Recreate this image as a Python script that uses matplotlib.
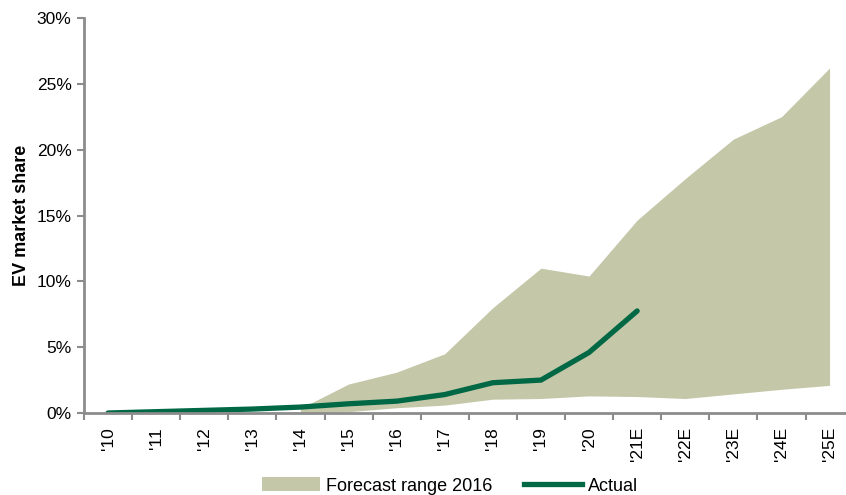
import numpy as np
import matplotlib
matplotlib.use("Agg")
import matplotlib.pyplot as plt
from matplotlib.patches import Patch
from matplotlib.lines import Line2D

plt.rcParams['font.family'] = ['Liberation Sans', 'DejaVu Sans']

years = ["'10", "'11", "'12", "'13", "'14", "'15", "'16", "'17", "'18", "'19",
         "'20", "'21E", "'22E", "'23E", "'24E", "'25E"]
# Forecast range made in 2016 (EV share, %)
forecast_low = [np.nan, np.nan, np.nan, np.nan, 0.0, 0.1, 0.4, 0.6, 1.05, 1.1,
                1.3, 1.25, 1.1, 1.45, 1.8, 2.1]
forecast_high = [np.nan, np.nan, np.nan, np.nan, 0.35, 2.2, 3.1, 4.5, 8.0, 11.0,
                 10.4, 14.65, 17.8, 20.8, 22.5, 26.2]
# Actual EV share (%)
actual = [0.0, 0.1, 0.2, 0.3, 0.45, 0.7, 0.9, 1.4, 2.3, 2.5, 4.6, 7.75]

fill_color = "#C4C7A8"
line_color = "#006845"
axis_gray = "#8C8C8C"

W, H = 846, 495
fig = plt.figure(figsize=(W / 100, H / 100), dpi=100)
ax = fig.add_axes([84 / W, (H - 413) / H, 16 * 48.1 / W, (413 - 18) / H])

x = np.arange(len(years))
ax.fill_between(x, forecast_low, forecast_high, color=fill_color, linewidth=0)
ax.plot(np.arange(len(actual)), actual, color=line_color, linewidth=3.8,
        solid_capstyle='round', solid_joinstyle='miter')

ax.set_xlim(-0.5, len(years) - 0.5)
ax.set_ylim(0, 30)
ax.set_yticks(np.arange(0, 31, 5))
ax.set_yticklabels([f"{v}%" for v in range(0, 31, 5)], fontsize=12.5)

ax.set_xticks(np.arange(-0.5, len(years), 1.0))
ax.set_xticklabels([])
ax.set_xticks(x, minor=True)
ax.set_xticklabels(years, minor=True, rotation=90, fontsize=12.5)
ax.tick_params(axis='x', which='major', length=5, width=1.5, color=axis_gray,
               direction='out')
ax.tick_params(axis='x', which='minor', length=0, pad=10)
ax.tick_params(axis='y', length=5, width=1.5, color=axis_gray, direction='out', pad=4)

for s in ['top', 'right']:
    ax.spines[s].set_visible(False)
for s in ['left', 'bottom']:
    ax.spines[s].set_color(axis_gray)
    ax.spines[s].set_linewidth(2)

ax.set_ylabel("EV market share", fontsize=13, fontweight='bold', labelpad=5)

handles = [Patch(facecolor=fill_color, edgecolor='none', label="Forecast range 2016"),
           Line2D([0], [0], color=line_color, linewidth=3.8, label="Actual")]
fig.legend(handles=handles, loc='center', bbox_to_anchor=(450 / W, 1 - 486 / H),
           ncol=2, frameon=False, fontsize=13, handlelength=3.2, handleheight=0.8,
           handletextpad=0.3, columnspacing=1.8, borderaxespad=0)

fig.savefig("out.png", dpi=100)
